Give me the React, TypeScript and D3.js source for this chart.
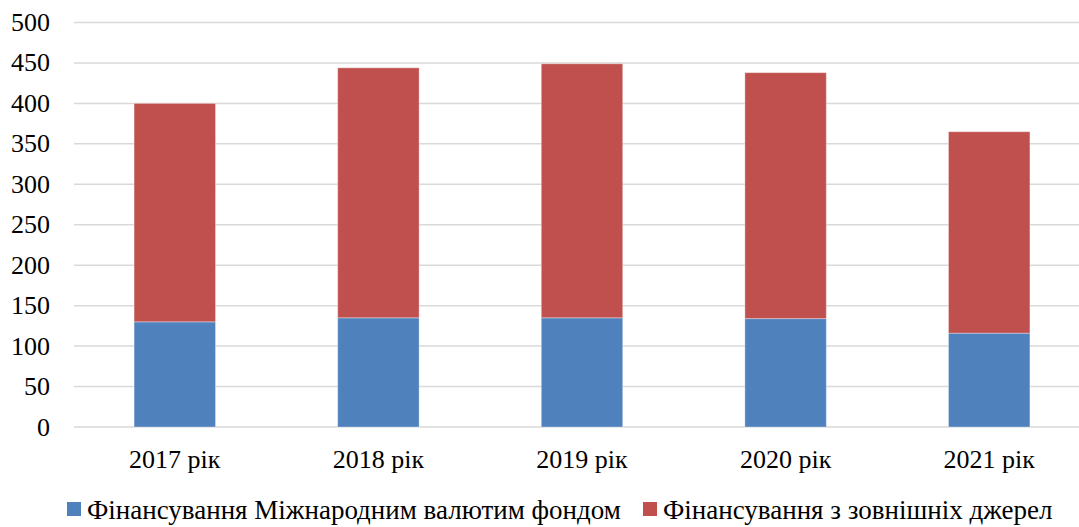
import React from 'react';
import * as d3 from 'd3';

const years = ['2017 рік', '2018 рік', '2019 рік', '2020 рік', '2021 рік'];
const imfFunding = [130, 135, 135, 134, 116];
const externalFunding = [270, 309, 314, 304, 249];
const yTicks = [0, 50, 100, 150, 200, 250, 300, 350, 400, 450, 500];
const seriesNames = ['Фінансування Міжнародним валютим фондом', 'Фінансування з зовнішніх джерел'];
const seriesColors = ['#4F81BD', '#C0504D'];

const W = 1079;
const H = 527;
const FONT = '"Liberation Serif", "Times New Roman", serif';

export default function App() {
  const x = d3.scaleBand().domain(years).range([73, 1091]).paddingInner(0.6).paddingOuter(0.3);
  const y = d3.scaleLinear().domain([0, 500]).range([427, 22.5]);

  const rows = years.map((yr, i) => ({ yr, imf: imfFunding[i], ext: externalFunding[i] }));
  const stacked = d3.stack<any>().keys(['imf', 'ext'])(rows);

  // legend swatch positions
  const legendX = [67, 643];

  return (
    <svg width={W} height={H} style={{ position: 'absolute', left: 0, top: 0, background: '#fff' }}
      fontFamily={FONT}>
      {/* gridlines */}
      {yTicks.map(t => (
        <line key={t} x1={74} x2={W} y1={y(t)} y2={y(t)} stroke="#D9D9D9" strokeWidth={1.5} />
      ))}
      {/* y labels */}
      {yTicks.map(t => (
        <text key={'l' + t} x={50} y={y(t)} textAnchor="end" dominantBaseline="central"
          fontSize={26} fill="#000">{t}</text>
      ))}
      {/* bars */}
      {stacked.map((s, si) => (
        <g key={si} fill={seriesColors[si]}>
          {s.map((d, i) => (
            <rect key={i} x={x(years[i])!} width={x.bandwidth()}
              y={y(d[1])} height={y(d[0]) - y(d[1])}
              stroke="rgba(255,255,255,0.35)" strokeWidth={1} />
          ))}
        </g>
      ))}
      {/* x labels */}
      {years.map(yr => (
        <text key={yr} x={x(yr)! + x.bandwidth() / 2} y={468} textAnchor="middle"
          fontSize={26} fill="#000">{yr}</text>
      ))}
      {/* legend */}
      {seriesNames.map((n, i) => (
        <g key={n}>
          <rect x={legendX[i]} y={502} width={14} height={14} fill={seriesColors[i]} />
          <text x={legendX[i] + 20} y={519} fontSize={27} fill="#000">{n}</text>
        </g>
      ))}
    </svg>
  );
}
